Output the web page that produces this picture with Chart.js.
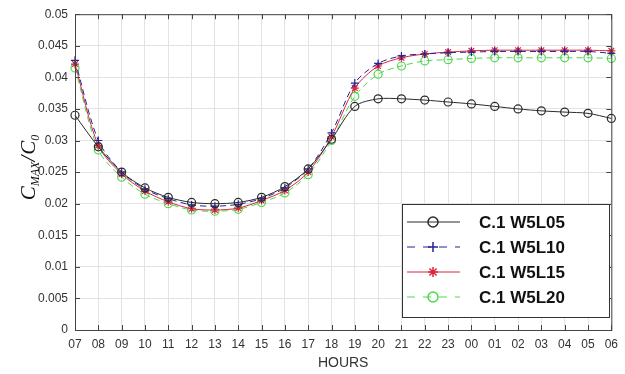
<!DOCTYPE html>
<html>
<head>
<meta charset="utf-8">
<script src="https://cdn.jsdelivr.net/npm/chart.js@4.4.1/dist/chart.umd.min.js"></script>
<style>
  html, body { margin: 0; padding: 0; background: #fff; }
  #wrap { width: 625px; height: 374px; }
</style>
</head>
<body>
<div id="wrap"><canvas id="c" width="625" height="374"></canvas></div>
<script>
const hours = ['07','08','09','10','11','12','13','14','15','16','17','18','19','20','21','22','23','00','01','02','03','04','05','06'];
const w5l05 = [0.0340,0.0290,0.0250,0.0225,0.0210,0.0202,0.0200,0.0202,0.0210,0.0227,0.0255,0.0302,0.0354,0.0366,0.0366,0.0364,0.0361,0.0358,0.0354,0.0350,0.0347,0.0345,0.0343,0.0335];
const w5l10 = [0.0427,0.0300,0.0250,0.0223,0.0208,0.0198,0.0196,0.0199,0.0208,0.0225,0.0255,0.0312,0.0391,0.0422,0.0434,0.0437,0.0439,0.0440,0.0441,0.0441,0.0441,0.0441,0.0441,0.0438];
const w5l15 = [0.0421,0.0292,0.0247,0.0220,0.0203,0.0192,0.0190,0.0193,0.0205,0.0221,0.0250,0.0306,0.0383,0.0418,0.0431,0.0437,0.0440,0.0442,0.0443,0.0443,0.0443,0.0443,0.0443,0.0442];
const w5l20 = [0.0415,0.0285,0.0242,0.0215,0.0200,0.0190,0.0188,0.0191,0.0202,0.0217,0.0246,0.0300,0.0370,0.0405,0.0418,0.0426,0.0428,0.0430,0.0431,0.0431,0.0431,0.0431,0.0431,0.0430];
const seriesNames = ['C.1 W5L05','C.1 W5L10','C.1 W5L15','C.1 W5L20'];

const colors = ['#2a2a2a', '#23239a', '#d8283a', '#4ed84e'];
const dashes = [[], [6,4], [], [6,4]];
const markers = ['circle', 'cross', 'star', 'circle'];

function mkSet(i, data) {
  return {
    label: seriesNames[i], data: data,
    borderColor: colors[i], backgroundColor: 'rgba(0,0,0,0)',
    borderWidth: 1, borderDash: dashes[i],
    pointStyle: markers[i], pointRadius: 4, pointBorderWidth: 1.2,
    pointBorderColor: colors[i], pointBackgroundColor: 'rgba(0,0,0,0)',
    tension: 0.3
  };
}

// frame + inward tick marks (matlab style)
const framePlugin = {
  id: 'frame',
  afterDatasetsDraw(chart) {
    const {ctx, chartArea: a, scales: {x, y}} = chart;
    ctx.save();
    ctx.strokeStyle = '#444'; ctx.lineWidth = 1;
    ctx.strokeRect(a.left + 0.5, a.top + 0.5, a.right - a.left, a.bottom - a.top);
    ctx.beginPath();
    hours.forEach((h, i) => {
      const px = Math.round(x.getPixelForValue(i)) + 0.5;
      ctx.moveTo(px, a.bottom); ctx.lineTo(px, a.bottom - 5);
      ctx.moveTo(px, a.top); ctx.lineTo(px, a.top + 5);
    });
    y.ticks.forEach(t => {
      const py = Math.round(y.getPixelForValue(t.value)) + 0.5;
      ctx.moveTo(a.left, py); ctx.lineTo(a.left + 5, py);
      ctx.moveTo(a.right, py); ctx.lineTo(a.right - 5, py);
    });
    ctx.stroke();
    ctx.restore();
  }
};

// y title with subscripts
const yTitlePlugin = {
  id: 'ytitle',
  afterDraw(chart) {
    const ctx = chart.ctx;
    ctx.save();
    ctx.translate(35, 168);
    ctx.rotate(-Math.PI / 2);
    ctx.fillStyle = '#111';
    ctx.textBaseline = 'alphabetic';
    const big = 'italic 21px "Liberation Serif"', small = 'italic 12px "Liberation Serif"';
    const parts = [['C', big, 0], ['MAX', small, 4], ['/', big, 0], ['C', big, 0], ['0', small, 4]];
    let total = 0;
    parts.forEach(p => { ctx.font = p[1]; total += ctx.measureText(p[0]).width; });
    let cx = -total / 2;
    parts.forEach(p => {
      ctx.font = p[1];
      ctx.fillText(p[0], cx, p[2]);
      cx += ctx.measureText(p[0]).width + (p[0] === '/' ? 1 : 0);
    });
    ctx.restore();
  }
};

// legend box inside the plot
const legendPlugin = {
  id: 'boxLegend',
  afterDraw(chart) {
    const ctx = chart.ctx;
    const bx = 402, by = 204, bw = 207, bh = 113;
    ctx.save();
    ctx.fillStyle = '#fff';
    ctx.fillRect(bx, by, bw, bh);
    ctx.strokeStyle = '#333'; ctx.lineWidth = 1;
    ctx.strokeRect(bx + 0.5, by + 0.5, bw, bh);
    chart.data.datasets.forEach((ds, i) => {
      const cy = 222 + i * 25;
      ctx.strokeStyle = colors[i]; ctx.lineWidth = 1;
      ctx.setLineDash(dashes[i].length ? [8, 8] : []);
      ctx.beginPath(); ctx.moveTo(407, cy); ctx.lineTo(460, cy); ctx.stroke();
      ctx.setLineDash([]);
      ctx.lineWidth = 1.5;
      ctx.fillStyle = 'rgba(0,0,0,0)';
      Chart.helpers.drawPoint(ctx, {pointStyle: markers[i], radius: 5, borderWidth: 1.5}, 433, cy);
      ctx.fillStyle = '#111';
      ctx.font = 'bold 17px "Liberation Sans"';
      ctx.textBaseline = 'middle';
      ctx.fillText(ds.label, 479, cy + 1);
    });
    ctx.restore();
  }
};

new Chart(document.getElementById('c'), {
  type: 'line',
  data: {
    labels: hours,
    datasets: [mkSet(0, w5l05), mkSet(1, w5l10), mkSet(2, w5l15), mkSet(3, w5l20)]
  },
  options: {
    responsive: false, animation: false,
    layout: { padding: { top: 14, right: 10, left: 0, bottom: 0 } },
    plugins: { legend: { display: false }, tooltip: { enabled: false } },
    scales: {
      x: {
        offset: false,
        grid: { color: '#e3e3e3', drawTicks: false },
        border: { display: false },
        ticks: { color: '#333', font: { family: '"Liberation Sans Narrow", "Liberation Sans"', size: 12 }, padding: 7, maxRotation: 0, autoSkip: false },
        title: { display: true, text: 'HOURS', color: '#333', font: { family: '"Liberation Sans"', size: 14 }, padding: { top: 0, bottom: 2 } },
        afterFit(s) { s.height = 44; }
      },
      y: {
        min: 0, max: 0.05,
        grid: { color: '#e3e3e3', drawTicks: false },
        border: { display: false },
        ticks: { stepSize: 0.005, color: '#333', padding: 7, font: { family: '"Liberation Sans Narrow", "Liberation Sans"', size: 12 },
                 callback: v => String(+v.toFixed(3)) },
        afterFit(s) { s.width = 75; }
      }
    }
  },
  plugins: [framePlugin, yTitlePlugin, legendPlugin]
});
</script>
</body>
</html>
